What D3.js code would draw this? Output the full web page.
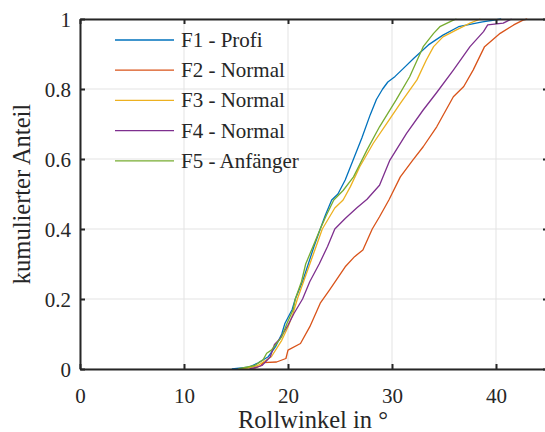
<!DOCTYPE html>
<html>
<head>
<meta charset="utf-8">
<script src="https://cdn.jsdelivr.net/npm/d3@7"></script>
<style>
  body { margin: 0; background: #fff; }
</style>
</head>
<body>
<div id="chart"></div>
<script>
// cumulative share per roll angle
const f1 = [[14.6,0],[16.2,0.005],[17.1,0.017],[18.1,0.035],[18.8,0.064],[19.4,0.10],[19.7,0.13],[20.4,0.17],[20.7,0.2],[21.4,0.25],[21.95,0.30],[22.5,0.35],[23.1,0.40],[23.6,0.44],[24.2,0.483],[24.8,0.50],[25.5,0.54],[26.3,0.60],[27.1,0.66],[27.9,0.726],[28.5,0.77],[29.1,0.80],[29.6,0.82],[30.3,0.836],[31.1,0.859],[32.1,0.888],[33.5,0.926],[34.9,0.954],[36.4,0.978],[38.7,0.992],[40.5,1]];
const f2 = [[16.6,0],[17.4,0.01],[17.6,0.018],[18.9,0.02],[19.8,0.03],[20.0,0.054],[21.2,0.073],[22.1,0.121],[23.1,0.188],[24.0,0.226],[25.5,0.292],[26.4,0.321],[27.2,0.34],[28.1,0.40],[28.8,0.435],[29.7,0.483],[30.8,0.549],[32.0,0.597],[33.0,0.635],[34.3,0.692],[35.9,0.778],[36.9,0.807],[37.8,0.854],[38.9,0.921],[40.4,0.959],[41.7,0.983],[42.6,0.997],[43.0,1]];
const f3 = [[15.5,0],[16.5,0.005],[17.1,0.01],[18.4,0.035],[19.4,0.082],[20.0,0.12],[20.5,0.16],[20.9,0.2],[21.5,0.25],[22.1,0.30],[22.7,0.35],[23.3,0.40],[24.5,0.46],[25.3,0.483],[26.0,0.521],[26.9,0.578],[28.2,0.645],[29.5,0.702],[30.8,0.759],[32.4,0.826],[33.3,0.883],[34.0,0.921],[34.9,0.949],[36.2,0.969],[37.5,0.988],[38.5,1]];
const f4 = [[16.3,0],[17.0,0.005],[17.5,0.01],[18.3,0.035],[18.7,0.07],[19.2,0.085],[20.0,0.125],[20.6,0.16],[21.4,0.2],[22.1,0.25],[23.0,0.30],[23.8,0.35],[24.5,0.4],[25.5,0.43],[26.6,0.46],[27.6,0.485],[28.8,0.525],[29.8,0.597],[31.4,0.673],[33.0,0.74],[34.3,0.79],[35.9,0.854],[37.5,0.921],[38.8,0.964],[39.2,0.983],[40.7,0.988],[41.5,1]];
const f5 = [[15.2,0],[16.0,0.005],[16.8,0.01],[17.6,0.026],[17.95,0.045],[18.4,0.054],[19.4,0.092],[19.9,0.13],[20.5,0.17],[20.7,0.2],[21.3,0.25],[21.7,0.30],[22.4,0.35],[23.1,0.40],[23.7,0.44],[24.4,0.483],[25.3,0.51],[26.3,0.549],[27.6,0.626],[28.8,0.692],[30.4,0.769],[31.7,0.835],[33.0,0.921],[34.0,0.959],[34.6,0.978],[35.9,0.997],[36.2,1]];

const seriesNames = ["F1 - Profi", "F2 - Normal", "F3 - Normal", "F4 - Normal", "F5 - Anfänger"];
const seriesColors = ["#0072BD", "#D95319", "#EDB120", "#7E2F8E", "#77AC30"];
const xTicks = [0, 10, 20, 30, 40];
const yTicks = [0, 0.2, 0.4, 0.6, 0.8, 1];

const allSeries = [f1, f2, f3, f4, f5];

const serif = "'Liberation Serif'";
const ink = "#262626";

const margin = {top: 19, right: -3, bottom: 63, left: 80},
      W = 545, H = 432,
      width = W - margin.left - margin.right,
      height = H - margin.top - margin.bottom;

const svg = d3.select("#chart")
  .append("svg")
    .attr("width", W)
    .attr("height", H);

const g = svg.append("g")
    .attr("transform", `translate(${margin.left},${margin.top})`);

const x = d3.scaleLinear().domain([0, 45]).range([0, width]);
const y = d3.scaleLinear().domain([0, 1]).range([height, 0]);

// grid
g.append("g")
  .selectAll("line")
  .data(xTicks)
  .join("line")
    .attr("x1", d => x(d)).attr("x2", d => x(d))
    .attr("y1", 0).attr("y2", height)
    .attr("stroke", "#e3e3e3").attr("stroke-width", 1);

g.append("g")
  .selectAll("line")
  .data(yTicks)
  .join("line")
    .attr("x1", 0).attr("x2", width)
    .attr("y1", d => y(d)).attr("y2", d => y(d))
    .attr("stroke", "#e3e3e3").attr("stroke-width", 1);

// lines
const line = d3.line()
  .x(d => x(d[0]))
  .y(d => y(d[1]));

g.selectAll(".cdf")
  .data(allSeries)
  .join("path")
    .attr("class", "cdf")
    .attr("d", line)
    .attr("fill", "none")
    .attr("stroke", (d, i) => seriesColors[i])
    .attr("stroke-width", 1.3)
    .attr("stroke-linejoin", "round");

// axes, ticks pointing inward
const tickLen = 5;
const xAxis = d3.axisBottom(x).tickValues(xTicks).tickSizeInner(-tickLen).tickSizeOuter(0);
const yAxis = d3.axisLeft(y).tickValues(yTicks).tickSizeInner(-tickLen).tickSizeOuter(0).tickFormat(d3.format("~g"));

const gx = g.append("g")
  .attr("transform", `translate(0,${height})`)
  .call(xAxis);
const gy = g.append("g").call(yAxis);

const gxTop = g.append("g")
  .call(d3.axisTop(x).tickValues(xTicks).tickSizeInner(-tickLen).tickSizeOuter(0).tickFormat(""));
const gyRight = g.append("g")
  .attr("transform", `translate(${width},0)`)
  .call(d3.axisRight(y).tickValues(yTicks).tickSizeInner(-tickLen).tickSizeOuter(0).tickFormat(""));

[gx, gy, gxTop, gyRight].forEach(a => {
  a.attr("font-family", serif).attr("font-size", 21);
  a.select(".domain").attr("stroke", ink).attr("stroke-width", 2);
  a.selectAll(".tick line").attr("stroke", ink).attr("stroke-width", 2);
  a.selectAll(".tick text")
    .style("font-family", serif)
    .style("font-size", "21px")
    .attr("fill", ink);
});
gy.selectAll(".tick text").attr("dy", "0.34em").attr("x", -9);
gx.selectAll(".tick text").attr("dy", "0.71em").attr("y", 19);

// axis titles
svg.append("text")
  .attr("x", margin.left + width / 2 - 1)
  .attr("y", 428)
  .attr("text-anchor", "middle")
  .attr("fill", ink)
  .style("font-family", serif)
  .style("font-size", "24.5px")
  .text("Rollwinkel in °");

svg.append("text")
  .attr("transform", `translate(30,${margin.top + height / 2}) rotate(-90)`)
  .attr("text-anchor", "middle")
  .attr("fill", ink)
  .style("font-family", serif)
  .style("font-size", "24.5px")
  .text("kumulierter Anteil");

// legend
const legend = g.append("g")
  .attr("transform", "translate(35,21)");

const rows = legend.selectAll("g")
  .data(seriesNames)
  .join("g")
    .attr("transform", (d, i) => `translate(0,${i * 30.2})`);

rows.append("line")
  .attr("x1", 0).attr("x2", 59)
  .attr("y1", 0).attr("y2", 0)
  .attr("stroke", (d, i) => seriesColors[i])
  .attr("stroke-width", 1.3);

rows.append("text")
  .attr("x", 66)
  .attr("dy", "0.33em")
  .attr("fill", ink)
  .style("font-family", serif)
  .style("font-size", "21px")
  .text(d => d);
</script>
</body>
</html>
